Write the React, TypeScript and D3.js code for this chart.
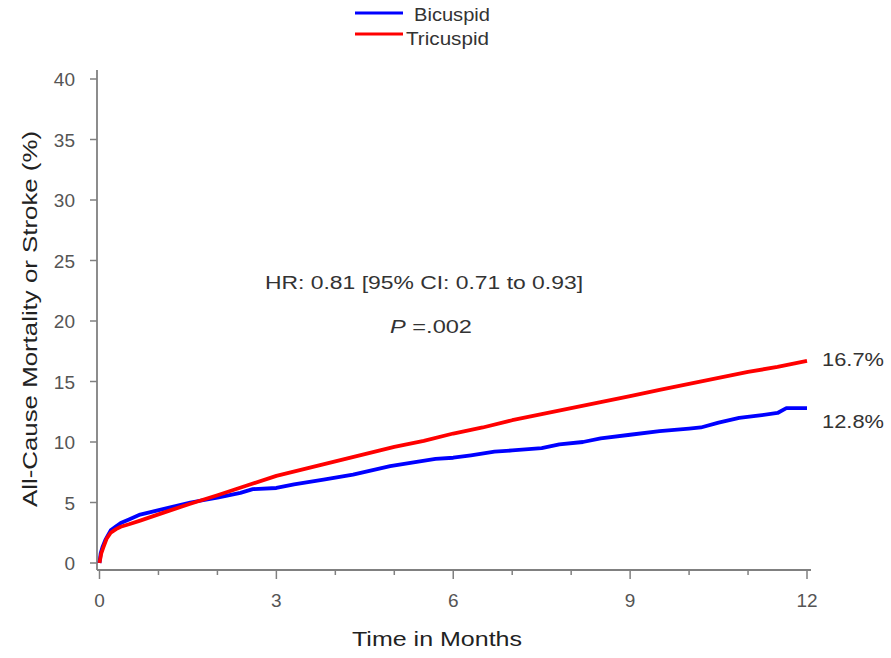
import React from "react";
import * as d3 from "d3";

// Kaplan-Meier style cumulative event curves
const bicuspidMonths = [0, 0.02, 0.05, 0.1, 0.19, 0.3, 0.36, 0.5, 0.69, 0.9, 1.2, 1.54, 2, 2.39, 2.6, 3, 3.3, 3.8, 4.3, 4.93, 5.3, 5.7, 6, 6.3, 6.7, 7, 7.5, 7.8, 8.2, 8.5, 9, 9.5, 10, 10.2, 10.5, 10.85, 11.2, 11.5, 11.65, 12];
const bicuspidValues = [0, 0.8, 1.3, 1.9, 2.7, 3.1, 3.3, 3.6, 4.0, 4.25, 4.6, 5.0, 5.4, 5.8, 6.1, 6.2, 6.5, 6.9, 7.3, 8.0, 8.3, 8.6, 8.7, 8.9, 9.2, 9.3, 9.5, 9.8, 10.0, 10.3, 10.6, 10.9, 11.1, 11.2, 11.6, 12.0, 12.2, 12.4, 12.8, 12.8];

const tricuspidMonths = [0, 0.03, 0.07, 0.12, 0.19, 0.28, 0.36, 0.5, 0.69, 0.9, 1.2, 1.54, 2, 2.5, 3, 3.5, 4, 4.5, 5, 5.5, 6, 6.5, 7, 7.5, 8, 8.5, 9, 9.5, 10, 10.5, 11, 11.5, 12];
const tricuspidValues = [0, 0.8, 1.35, 2.0, 2.5, 2.8, 3.0, 3.2, 3.5, 3.85, 4.35, 4.9, 5.6, 6.4, 7.2, 7.8, 8.4, 9.0, 9.6, 10.1, 10.7, 11.2, 11.8, 12.3, 12.8, 13.3, 13.8, 14.3, 14.8, 15.3, 15.8, 16.2, 16.7];

const yTicks = [0, 5, 10, 15, 20, 25, 30, 35, 40];
const xMajorTicks = [0, 3, 6, 9, 12];
const xMinorTicks = [1, 2, 4, 5, 7, 8, 10, 11];

const seriesNames = ["Bicuspid", "Tricuspid"];
const endLabels = ["12.8%", "16.7%"];
const hrText = "HR: 0.81 [95% CI: 0.71 to 0.93]";
const pValue = "=.002";

const FONT = "'Liberation Sans', Arial, sans-serif";
const BLUE = "#0000ff";
const RED = "#ff0000";
const AXIS = "#808080";

const App = () => {
  const x = d3.scaleLinear().domain([0, 12]).range([99.5, 807]);
  const y = d3.scaleLinear().domain([0, 40]).range([563, 79]);

  const line = d3.line<[number, number]>()
    .x(d => x(d[0]))
    .y(d => y(d[1]))
    .curve(d3.curveLinear);

  const blue = line(bicuspidMonths.map((m, i) => [m, bicuspidValues[i]] as [number, number]));
  const red = line(tricuspidMonths.map((m, i) => [m, tricuspidValues[i]] as [number, number]));

  const axisY = 570;
  const axisX = 97;

  return (
    <svg width={891} height={658} style={{ position: "absolute", left: 0, top: 0, background: "#fff" }} fontFamily={FONT}>
      {/* legend */}
      <line x1={355} x2={403} y1={13} y2={13} stroke={BLUE} strokeWidth={3} />
      <text x={414} y={21} fontSize={19} fill="#333" textLength={76} lengthAdjust="spacingAndGlyphs">{seriesNames[0]}</text>
      <line x1={355} x2={403} y1={34} y2={34} stroke={RED} strokeWidth={3} />
      <text x={406} y={45} fontSize={19} fill="#333" textLength={83} lengthAdjust="spacingAndGlyphs">{seriesNames[1]}</text>

      {/* y axis */}
      <line x1={axisX} x2={axisX} y1={70} y2={axisY} stroke={AXIS} strokeWidth={1.8} />
      {yTicks.map(t => (
        <g key={t}>
          <line x1={90} x2={axisX} y1={y(t)} y2={y(t)} stroke={AXIS} strokeWidth={1.5} />
          <text x={75} y={y(t) + 7} fontSize={19} fill="#555" textAnchor="end">{t}</text>
        </g>
      ))}

      {/* x axis */}
      <line x1={axisX} x2={811} y1={axisY} y2={axisY} stroke={AXIS} strokeWidth={1.8} />
      {xMajorTicks.map(t => (
        <g key={t}>
          <line x1={x(t)} x2={x(t)} y1={axisY} y2={axisY + 9} stroke={AXIS} strokeWidth={1.5} />
          <text x={x(t)} y={607} fontSize={19} fill="#555" textAnchor="middle">{t}</text>
        </g>
      ))}
      {xMinorTicks.map(t => (
        <line key={t} x1={x(t)} x2={x(t)} y1={axisY} y2={axisY + 5} stroke={AXIS} strokeWidth={1.5} />
      ))}

      {/* axis titles */}
      <text x={437} y={646} fontSize={20} fill="#222" textAnchor="middle" textLength={170} lengthAdjust="spacingAndGlyphs">Time in Months</text>
      <text transform={`translate(37,319) rotate(-90)`} fontSize={20} fill="#222" textAnchor="middle" textLength={376} lengthAdjust="spacingAndGlyphs">All-Cause Mortality or Stroke (%)</text>

      {/* annotation */}
      <text x={424} y={289} fontSize={18} fill="#333" textAnchor="middle" textLength={318} lengthAdjust="spacingAndGlyphs">{hrText}</text>
      <text x={431} y={333} fontSize={18} fill="#333" textAnchor="middle" textLength={82} lengthAdjust="spacingAndGlyphs">
        <tspan fontStyle="italic">P</tspan> {pValue}
      </text>

      {/* curves */}
      <path d={blue ?? ""} fill="none" stroke={BLUE} strokeWidth={3.8} strokeLinejoin="round" />
      <path d={red ?? ""} fill="none" stroke={RED} strokeWidth={3.8} strokeLinejoin="round" />

      {/* end labels */}
      <text x={822} y={366} fontSize={19} fill="#333" textLength={62} lengthAdjust="spacingAndGlyphs">{endLabels[1]}</text>
      <text x={822} y={428} fontSize={19} fill="#333" textLength={62} lengthAdjust="spacingAndGlyphs">{endLabels[0]}</text>
    </svg>
  );
};

export default App;
